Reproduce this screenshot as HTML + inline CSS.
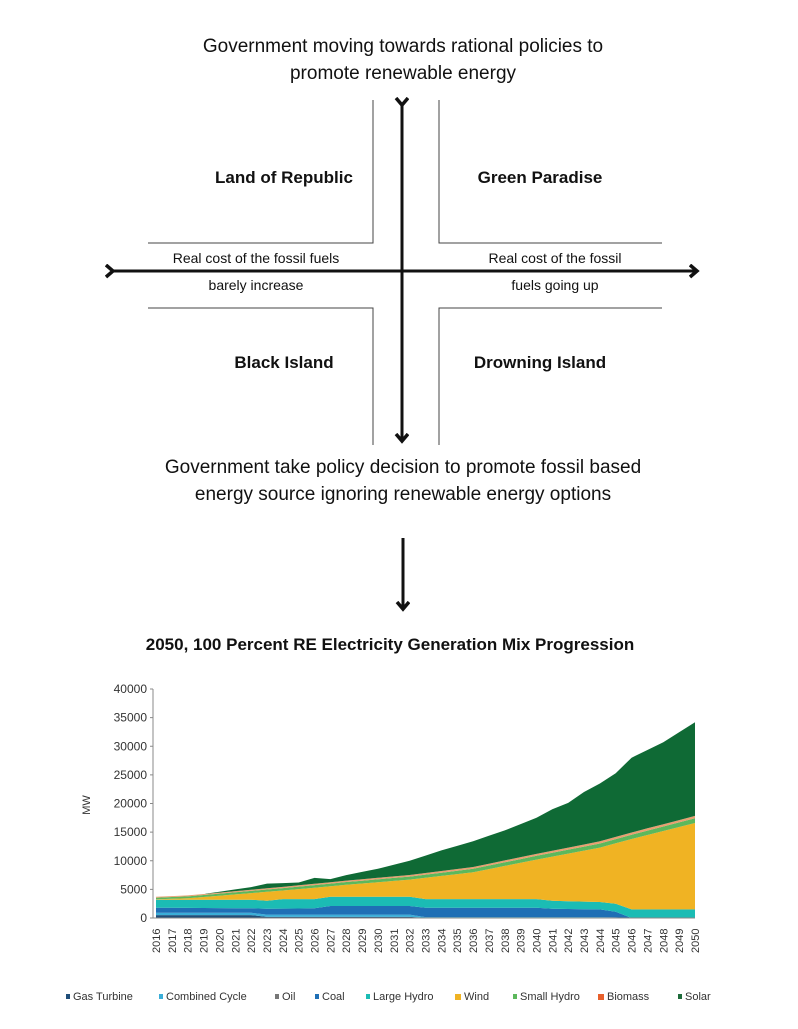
<!DOCTYPE html>
<html><head><meta charset="utf-8"><style>
body{margin:0;background:#fff;width:798px;height:1024px;overflow:hidden;font-family:"Liberation Sans",sans-serif}
</style></head><body>
<svg id="s" width="798" height="1024" xmlns="http://www.w3.org/2000/svg" font-family="Liberation Sans, sans-serif">
<defs><marker id="ah" markerWidth="16" markerHeight="16" refX="7" refY="7" orient="auto" markerUnits="userSpaceOnUse"><path d="M1,1 L8,7 L1,13" fill="none" stroke="#111" stroke-width="3.5"/></marker></defs>
<text x="403" y="52" font-size="19" text-anchor="middle" fill="#111">Government moving towards rational policies to</text>
<text x="403" y="79" font-size="19" text-anchor="middle" fill="#111">promote renewable energy</text>
<g stroke="#444" stroke-width="1" fill="none">
<path d="M373,100 V243 H148 M439,100 V243 H662 M148,308 H373 V445 M662,308 H439 V445"/>
</g>
<g stroke="#111" stroke-width="3" fill="none">
<line x1="402" y1="104" x2="402" y2="440" marker-start="url(#ah)" marker-end="url(#ah)"/>
<line x1="112" y1="271" x2="696" y2="271" marker-start="url(#ah)" marker-end="url(#ah)"/>
<line x1="403" y1="538" x2="403" y2="608" marker-end="url(#ah)"/>
</g>
<g font-size="17" font-weight="bold" text-anchor="middle" fill="#111">
<text x="284" y="183">Land of Republic</text>
<text x="540" y="183">Green Paradise</text>
<text x="284" y="368">Black Island</text>
<text x="540" y="368">Drowning Island</text>
</g>
<g font-size="14" text-anchor="middle" fill="#111">
<text x="256" y="263">Real cost of the fossil fuels</text>
<text x="256" y="290">barely increase</text>
<text x="555" y="263">Real cost of the fossil</text>
<text x="555" y="290">fuels going up</text>
</g>
<text x="403" y="473" font-size="19" text-anchor="middle" fill="#111">Government take policy decision to promote fossil based</text>
<text x="403" y="500" font-size="19" text-anchor="middle" fill="#111">energy source ignoring renewable energy options</text>
<text x="390" y="650" font-size="17" font-weight="bold" text-anchor="middle" fill="#111">2050, 100 Percent RE Electricity Generation Mix Progression</text>
<g id="chart"></g>
<g font-size="11" fill="#333">
<rect x="66" y="994" width="4" height="5" fill="#1f4e79"/><text x="73" y="1000">Gas Turbine</text>
<rect x="159" y="994" width="4" height="5" fill="#3aaed8"/><text x="166" y="1000">Combined Cycle</text>
<rect x="275" y="994" width="4" height="5" fill="#777"/><text x="282" y="1000">Oil</text>
<rect x="315" y="994" width="4" height="5" fill="#1f6fb5"/><text x="322" y="1000">Coal</text>
<rect x="366" y="994" width="4" height="5" fill="#1bbcb4"/><text x="373" y="1000">Large Hydro</text>
<rect x="455" y="994" width="6" height="6" fill="#f0b323"/><text x="464" y="1000">Wind</text>
<rect x="513" y="994" width="4" height="5" fill="#5cb85c"/><text x="520" y="1000">Small Hydro</text>
<rect x="598" y="994" width="6" height="6" fill="#e8602c"/><text x="607" y="1000">Biomass</text>
<rect x="678" y="994" width="4" height="5" fill="#1e6b3a"/><text x="685" y="1000">Solar</text>
</g>
</svg>
<script>
(function(){
var g=document.getElementById('chart'),NS='http://www.w3.org/2000/svg';
function el(t,a,txt){var e=document.createElementNS(NS,t);for(var k in a)e.setAttribute(k,a[k]);if(txt!=null)e.textContent=txt;g.appendChild(e);return e;}
var X0=156,X1=695,Y0=918,Y40=689;
function X(i){return X0+(X1-X0)*i/34;}
function Y(v){return Y0-(Y0-Y40)*v/40000;}
function interp(pts){var out=[];for(var i=0;i<35;i++){var yr=2016+i;for(var j=0;j<pts.length-1;j++){var a=pts[j],b=pts[j+1];if(yr>=a[0]&&yr<=b[0]){out.push(a[1]+(b[1]-a[1])*(yr-a[0])/(b[0]-a[0]||1));break;}}}return out;}
var gas=interp([[2016,500],[2022,500],[2023,200],[2032,200],[2033,50],[2050,50]]);
var cc=interp([[2016,900],[2022,900],[2023,600],[2032,600],[2033,150],[2044,150],[2045,100],[2046,0],[2050,0]]);
var coal=interp([[2016,1800],[2022,1700],[2023,1600],[2026,1700],[2027,2100],[2032,2100],[2033,1800],[2040,1800],[2041,1600],[2044,1500],[2045,1100],[2046,0],[2050,0]]);
var lh=interp([[2016,3200],[2022,3200],[2023,3000],[2024,3300],[2026,3300],[2027,3700],[2032,3700],[2033,3300],[2040,3300],[2041,3000],[2044,2800],[2045,2500],[2046,1500],[2050,1500]]);
var wind=interp([[2016,3250],[2018,3450],[2020,3900],[2024,4800],[2028,5800],[2032,6700],[2036,8000],[2040,10200],[2044,12300],[2046,13800],[2050,16600]]);
var sh=wind.map(function(v,i){return v+300+i*15;});
var bio=sh.map(function(v,i){return v+150+i*8;});
var tot=interp([[2016,3600],[2018,3700],[2019,4100],[2020,4600],[2022,5400],[2023,6000],[2025,6200],[2026,7000],[2027,6800],[2028,7500],[2030,8600],[2032,10000],[2034,11800],[2036,13400],[2038,15300],[2040,17500],[2041,19000],[2042,20100],[2043,22000],[2044,23500],[2045,25300],[2046,28000],[2048,30700],[2050,34200]]);
tot=tot.map(function(v,i){return Math.max(v,bio[i]);});
var zero=tot.map(function(){return 0;});
var layers=[[zero,gas,'#1f4e79'],[gas,cc,'#3aaed8'],[cc,coal,'#1f6fb5'],[coal,lh,'#1bbcb4'],[lh,wind,'#f0b323'],[wind,sh,'#5cb85c'],[sh,bio,'#e8a070'],[bio,tot,'#0f6a35']];
layers.forEach(function(L){var lo=L[0],hi=L[1],d='';for(var i=0;i<35;i++)d+=(i?'L':'M')+X(i).toFixed(1)+','+Y(Math.max(hi[i],lo[i])).toFixed(1);for(var i=34;i>=0;i--)d+='L'+X(i).toFixed(1)+','+Y(lo[i]).toFixed(1);el('path',{d:d+'Z',fill:L[2]});});
el('line',{x1:153,y1:Y40,x2:153,y2:Y0,stroke:'#888','stroke-width':1});
el('line',{x1:153,y1:Y0,x2:X1,y2:Y0,stroke:'#888','stroke-width':1});
for(var v=0;v<=40000;v+=5000){el('text',{x:147,y:Y(v)+4,'font-size':12,'text-anchor':'end',fill:'#333'},String(v));el('line',{x1:150,y1:Y(v),x2:153,y2:Y(v),stroke:'#888'});}
el('text',{x:90,y:805,'font-size':11,'text-anchor':'middle',fill:'#333',transform:'rotate(-90 90 805)'},'MW');
for(var i=0;i<35;i++){el('text',{x:X(i)+4,y:953,'font-size':11,'text-anchor':'start',fill:'#333',transform:'rotate(-90 '+(X(i)+4)+' 953)'},String(2016+i));}
})();
</script>
</body></html>
